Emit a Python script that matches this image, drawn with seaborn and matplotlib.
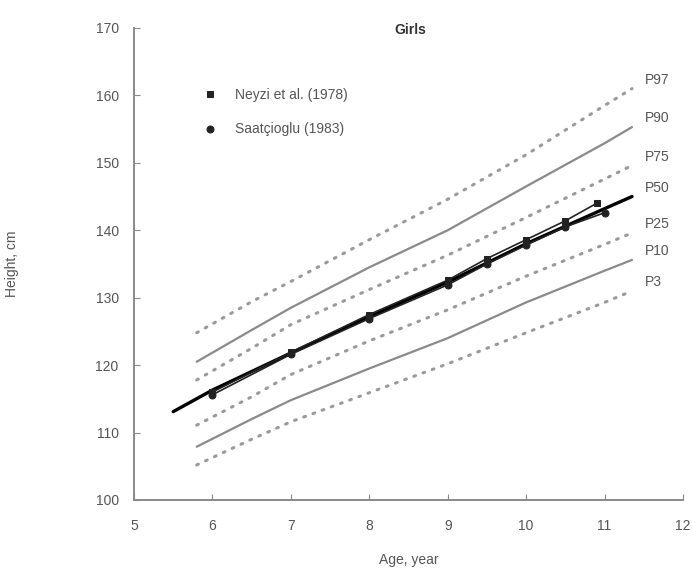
import numpy as np
import pandas as pd
import seaborn as sns
import matplotlib.pyplot as plt

# Percentile reference curves (girls)
ages = [5.8, 6.5, 7, 8, 9, 10, 11, 11.35]
p97 = [124.8, 129.4, 132.4, 138.6, 144.6, 151.2, 158.5, 161.0]
p90 = [120.5, 125.2, 128.5, 134.5, 140.0, 146.5, 152.9, 155.3]
p75 = [117.8, 122.5, 126.0, 131.2, 136.3, 141.9, 147.6, 149.6]
p25 = [111.1, 115.3, 118.6, 123.6, 128.2, 133.2, 137.9, 139.6]
p10 = [107.9, 112.0, 114.8, 119.5, 124.0, 129.3, 134.0, 135.6]
p3 = [105.2, 109.0, 111.6, 115.9, 120.2, 124.8, 129.3, 131.0]

ages_p50 = [5.5, 6, 7, 8, 9, 10, 11, 11.35]
p50 = [113.1, 116.3, 121.8, 127.2, 132.3, 138.0, 143.2, 145.0]

# Study data
neyzi_age = [6, 7, 8, 9, 9.5, 10, 10.5, 10.9]
neyzi_h = [116.0, 121.9, 127.5, 132.6, 135.8, 138.6, 141.4, 144.0]
saat_age = [6, 7, 8, 9, 9.5, 10, 10.5, 11]
saat_h = [115.6, 121.6, 126.9, 131.9, 135.0, 137.8, 140.5, 142.6]

sns.set_style("ticks")
plt.rcParams['font.family'] = ['Liberation Sans', 'DejaVu Sans']

fig = plt.figure(figsize=(6.92, 5.82), dpi=100)
ax = fig.add_axes([0.1936, 0.1409, 0.7934, 0.8111])

grey = "#8a8a8a"
dotted = dict(color="#9a9a9a", linewidth=2.2, linestyle=(0, (0.6, 2.6)),
              dash_capstyle="round")
solid = dict(color=grey, linewidth=1.6)

curves = [("P97", ages, p97, dotted), ("P90", ages, p90, solid),
          ("P75", ages, p75, dotted), ("P50", ages_p50, p50, None),
          ("P25", ages, p25, dotted), ("P10", ages, p10, solid),
          ("P3", ages, p3, dotted)]

for name, xs, ys, kw in curves:
    if kw is None:
        sns.lineplot(x=xs, y=ys, ax=ax, color="black", linewidth=2.4)
    else:
        sns.lineplot(x=xs, y=ys, ax=ax, **kw)
    ax.text(11.52, ys[-1] + 1.3, name, fontsize=10, color="#555555",
            va="center", ha="left")

sns.lineplot(x=neyzi_age, y=neyzi_h, ax=ax, color="#222222", linewidth=1.2,
             marker="s", markersize=5, markeredgecolor="#222222",
             label="Neyzi et al. (1978)")
sns.lineplot(x=saat_age, y=saat_h, ax=ax, color="#222222", linewidth=1.2,
             marker="o", markersize=5, markeredgecolor="#222222",
             label="Saatçioglu (1983)")

ax.set_xlim(5, 12)
ax.set_ylim(100, 170)
ax.set_xticks(range(5, 13))
ax.set_yticks(range(100, 171, 10))
ax.tick_params(direction="in", length=4, color=grey, labelcolor="#555555",
               labelsize=10)
ax.tick_params(axis="x", pad=14)
ax.tick_params(axis="y", pad=11)
for s in ["top", "right"]:
    ax.spines[s].set_visible(False)
for s in ["left", "bottom"]:
    ax.spines[s].set_color(grey)
    ax.spines[s].set_linewidth(1.4)

ax.set_xlabel("Age, year", fontsize=10, color="#555555", labelpad=14)
ax.set_ylabel("Height, cm", fontsize=10, color="#555555", labelpad=55)
ax.text(0.503, 0.996, "Girls", transform=ax.transAxes, ha="center",
        va="center", fontsize=10, fontweight="bold", color="#333333")

leg = ax.legend(loc="upper left", bbox_to_anchor=(0.1, 0.9), frameon=False,
                fontsize=10, handlelength=1.2, labelspacing=1.5,
                handletextpad=1.2)
for h in leg.legend_handles:
    h.set_linestyle("none")
for t in leg.get_texts():
    t.set_color("#555555")

fig.savefig("out.png", dpi=100)
